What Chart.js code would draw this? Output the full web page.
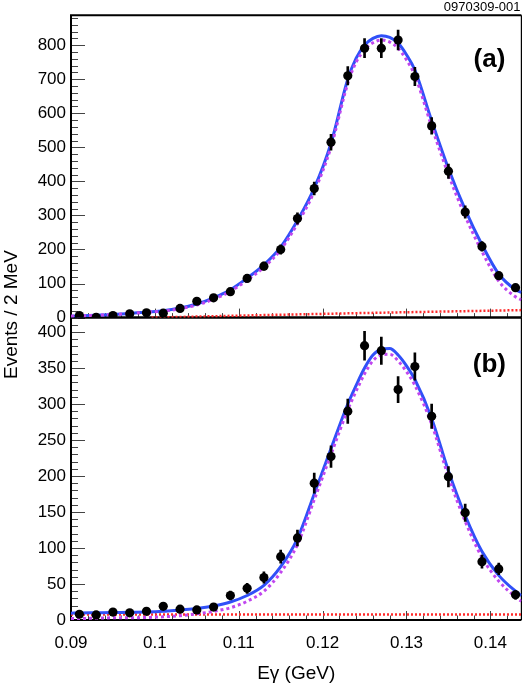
<!DOCTYPE html>
<html>
<head>
<meta charset="utf-8">
<title>E-gamma fit</title>
<script src="https://cdn.jsdelivr.net/npm/chart.js@4.4.1/dist/chart.umd.min.js"></script>
<style>
  html, body { margin: 0; padding: 0; background: #fff; }
  #plot { display: block; }
</style>
</head>
<body>
<canvas id="plot" width="526" height="688"></canvas>
<script>
// ----- Data -----
const binCenters = [0.091, 0.093, 0.095, 0.097, 0.099, 0.101, 0.103, 0.105, 0.107, 0.109,
  0.111, 0.113, 0.115, 0.117, 0.119, 0.121, 0.123, 0.125, 0.127, 0.129,
  0.131, 0.133, 0.135, 0.137, 0.139, 0.141, 0.143];

// panel (a)
const countsA = [6, 1, 6, 11, 14, 13, 27, 48, 58, 76, 115, 151, 200, 291, 379, 515, 710, 791, 791, 815,
  708, 563, 430, 310, 209, 123, 88];
const errorsA = [3, 1, 3, 3, 4, 4, 5, 7, 8, 9, 11, 12, 14, 17, 19, 23, 27, 28, 28, 29,
  27, 24, 21, 18, 14, 11, 9];

// panel (b)
const countsB = [8, 7, 11, 10, 12, 19, 15, 14, 18, 34, 44, 59, 88, 114, 190, 227, 290, 381, 374, 320,
  352, 283, 199, 149, 81, 71, 35];
const errorsB = [3, 3, 3, 3, 3, 4, 4, 4, 4, 6, 7, 8, 9, 11, 14, 15, 17, 20, 19, 18,
  19, 17, 14, 12, 9, 8, 6];

// fit curves, sampled along curveX
const curveX = [0.090, 0.091, 0.093, 0.095, 0.097, 0.099, 0.101, 0.103, 0.105, 0.107, 0.109,
  0.111, 0.113, 0.115, 0.117, 0.119, 0.121, 0.123, 0.124, 0.125, 0.126, 0.127, 0.128,
  0.129, 0.130, 0.131, 0.133, 0.135, 0.137, 0.139, 0.141, 0.143, 0.1437];
const totalFitA = [4, 5, 7, 9, 12, 16, 20, 28, 40, 58, 82, 116, 155, 207, 285, 380, 512, 700, 762,
  800, 820, 828, 823, 806, 772, 727, 578, 438, 317, 214, 128, 82, 74];
const signalFitA = [4, 5, 7, 9, 12, 16, 19, 26, 37, 54, 77, 110, 148, 199, 276, 370, 501, 688, 750,
  787, 807, 815, 809, 791, 757, 711, 561, 420, 298, 194, 107, 61, 52];
const totalFitB = [9.5, 9.7, 10, 10.3, 10.7, 11, 12, 14, 16, 19.5, 25, 34, 48, 74, 113, 175, 238, 300, 326,
  350, 368, 376, 377, 368, 353, 334, 280, 207, 145, 95, 62, 40, 34];
const signalFitB = [2, 2, 2.5, 3, 3, 3.5, 4.5, 6, 8.5, 12, 17, 26, 40, 66, 105, 167, 230, 292, 318,
  342, 360, 368, 369, 360, 345, 326, 272, 199, 137, 87, 54, 32, 26];

// background lines
const bkgXA = [0.0996, 0.12, 0.1437];
const bkgA = [0, 11, 22];
const bkgXB = [0.09, 0.12, 0.1437];
const bkgB = [7.5, 7.5, 7.5];

// axes
const xTicks = [0.09, 0.1, 0.11, 0.12, 0.13, 0.14];
const yTicksA = [0, 100, 200, 300, 400, 500, 600, 700, 800];
const yTicksB = [0, 50, 100, 150, 200, 250, 300, 350, 400];

// ----- Helpers -----
const BLUE = "#3050f8";
const MAGENTA = "#c046ef";
const RED = "#ff2a2a";
const FONT = '"Liberation Sans", Arial, Helvetica, sans-serif';

function xy(xs, ys) { return xs.map((x, i) => ({ x, y: ys[i] })); }
function errBars(xs, c, e) { return xs.map((x, i) => ({ x, y: [c[i] - e[i], c[i] + e[i]] })); }

function pointsSet(data, axis) {
  return { type: "line", data, yAxisID: axis, showLine: false, order: 0,
    pointRadius: 4.6, pointBackgroundColor: "#000", pointBorderWidth: 0 };
}
function errSet(data, axis) {
  return { type: "bar", data, yAxisID: axis, order: 1, grouped: false,
    barThickness: 2, backgroundColor: "#000", borderWidth: 0 };
}
function curveSet(data, axis, color, width, dash, order) {
  return { type: "line", data, yAxisID: axis, order, borderColor: color, borderWidth: width,
    borderDash: dash, pointRadius: 0, fill: false, cubicInterpolationMode: "monotone" };
}

// frame, inner ticks and free labels
const panelDecor = {
  id: "panelDecor",
  beforeDatasetsDraw(chart) {
    const { ctx, chartArea, scales } = chart;
    const xs = scales.x;
    const panels = [
      { s: scales.yTop, major: 100, minor: 20 },
      { s: scales.yBot, major: 50, minor: 10 },
    ];
    ctx.save();
    panels.forEach((p) => {
      const top = p.s.top, bot = p.s.bottom;
      ctx.strokeStyle = "#444";
      ctx.lineWidth = 1;
      ctx.beginPath();
      for (let v = p.s.min; v <= p.s.max; v += p.minor) {
        const y = Math.round(p.s.getPixelForValue(v)) + 0.5;
        const len = v % p.major === 0 ? 14 : 7;
        ctx.moveTo(chartArea.left, y);
        ctx.lineTo(chartArea.left + len, y);
      }
      for (let k = 0; ; k++) {
        const v = 0.09 + k * 0.002;
        if (v > xs.max) break;
        const x = Math.round(xs.getPixelForValue(v)) + 0.5;
        const len = k % 5 === 0 ? 9 : 4.5;
        ctx.moveTo(x, bot);
        ctx.lineTo(x, bot - len);
      }
      ctx.stroke();

      ctx.strokeStyle = "#000";
      ctx.lineWidth = 1.2;
      ctx.beginPath();
      ctx.moveTo(chartArea.right, top);
      ctx.lineTo(chartArea.right, bot);
      ctx.stroke();
      ctx.lineWidth = 2;
      ctx.beginPath();
      ctx.moveTo(chartArea.right, top);
      ctx.lineTo(chartArea.left, top);
      ctx.lineTo(chartArea.left, bot);
      ctx.lineTo(chartArea.right, bot);
      ctx.stroke();
    });
    ctx.restore();
  },
  afterDraw(chart) {
    const { ctx, chartArea, scales } = chart;
    ctx.save();
    ctx.fillStyle = "#000";
    ctx.textAlign = "center";
    ctx.textBaseline = "middle";
    ctx.font = "bold 26px " + FONT;
    ctx.fillText("(a)", chartArea.right - 32, scales.yTop.top + 45);
    ctx.fillText("(b)", chartArea.right - 32, scales.yBot.top + 47);

    ctx.font = "13px " + FONT;
    ctx.textAlign = "right";
    ctx.fillText("0970309-001", chartArea.right - 1, 7);

    ctx.translate(17, (chartArea.top + chartArea.bottom) / 2 - 3);
    ctx.rotate(-Math.PI / 2);
    ctx.textAlign = "center";
    ctx.textBaseline = "alphabetic";
    ctx.font = "19px " + FONT;
    ctx.fillText("Events / 2 MeV", 0, 0);
    ctx.restore();
  },
};

function yScale(max, ticks, weight) {
  return {
    type: "linear", position: "left", stack: "panels", stackWeight: 1, weight,
    min: 0, max,
    grid: { display: false, drawTicks: false },
    border: { display: false },
    afterBuildTicks: (s) => { s.ticks = ticks.map((v) => ({ value: v })); },
    afterFit: (s) => { s.width = 71; },
    ticks: { padding: 5, autoSkip: false, color: "#000", font: { size: 17, family: FONT } },
  };
}

Chart.defaults.font.family = FONT;
Chart.defaults.color = "#000";

new Chart(document.getElementById("plot"), {
  type: "line",
  data: {
    datasets: [
      pointsSet(xy(binCenters, countsA), "yTop"),
      errSet(errBars(binCenters, countsA, errorsA), "yTop"),
      curveSet(xy(curveX, signalFitA), "yTop", MAGENTA, 3, [3, 3], 2),
      curveSet(xy(curveX, totalFitA), "yTop", BLUE, 3, [], 3),
      curveSet(xy(bkgXA, bkgA), "yTop", RED, 2.5, [2, 2], 4),

      pointsSet(xy(binCenters, countsB), "yBot"),
      errSet(errBars(binCenters, countsB, errorsB), "yBot"),
      curveSet(xy(curveX, signalFitB), "yBot", MAGENTA, 3, [3, 3], 2),
      curveSet(xy(curveX, totalFitB), "yBot", BLUE, 3, [], 3),
      curveSet(xy(bkgXB, bkgB), "yBot", RED, 2.5, [2, 2], 4),
    ],
  },
  options: {
    responsive: false,
    animation: false,
    layout: { padding: { top: 15, right: 3, left: 0, bottom: 0 } },
    plugins: { legend: { display: false }, tooltip: { enabled: false } },
    scales: {
      x: {
        type: "linear", min: 0.09, max: 0.1437, offset: false,
        grid: { display: false, drawTicks: false, offset: false },
        border: { display: false },
        afterBuildTicks: (s) => { s.ticks = xTicks.map((v) => ({ value: v })); },
        afterFit: (s) => { s.height = 68; },
        ticks: { padding: 13, maxRotation: 0, autoSkip: false, color: "#000",
          font: { size: 17, family: FONT }, callback: (v) => String(v) },
        title: { display: true, text: "Eγ (GeV)", color: "#000",
          font: { size: 19, family: FONT }, padding: { top: 0, bottom: 3 } },
      },
      yBot: yScale(420, yTicksB, 0),
      yTop: yScale(888, yTicksA, 1),
    },
  },
  plugins: [panelDecor],
});
</script>
</body>
</html>
